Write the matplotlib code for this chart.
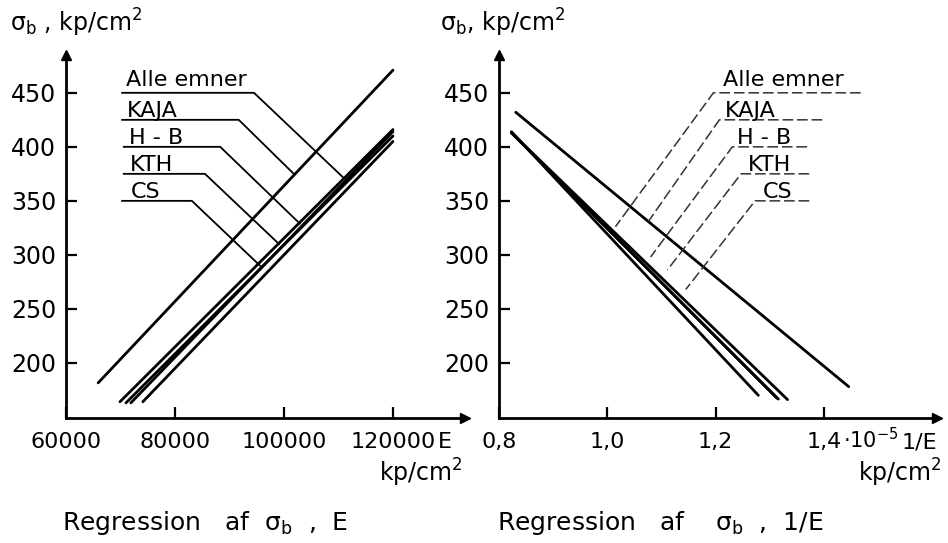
import numpy as np
import matplotlib
matplotlib.use("Agg")
import matplotlib.pyplot as plt

plt.rcParams["font.family"] = ["DejaVu Sans"]

# ── data: regression lines ───────────────────────────────────────────────────
LABELS = ["Alle emner", "KAJA", "H - B", "KTH", "CS"]

# sigma_b against E (kp/cm2)
E_START = [69900, 65900, 71900, 71000, 74100]
E_END = [120000, 120000, 120000, 120000, 120000]
SB_E_START = [164, 181.5, 163, 163, 164]
SB_E_END = [416, 471, 414, 410, 405]

# sigma_b against 1/E (1e-5 cm2/kp)
INV_START = [0.823, 0.831, 0.823, 0.823, 0.823]
INV_END = [1.314, 1.446, 1.316, 1.333, 1.279]
SB_INV_START = [413, 432, 413, 413, 414]
SB_INV_END = [167, 178, 166.5, 166, 170]

Y_TICKS = [200, 250, 300, 350, 400, 450]
E_TICKS = [60000, 80000, 100000, 120000]
E_TICKLABELS = ["60000", "80000", "100000", "120000"]
INV_TICKS = [0.8, 1.0, 1.2, 1.4]
INV_TICKLABELS = ["0,8", "1,0", "1,2", "1,4"]

# ── leader layout (label line level, underline start, knee, tip) ─────────────
LEAD_Y = [450, 425, 400, 375, 350]
L_START = [70300, 70300, 70600, 70600, 70300]
L_KNEE = [94500, 91700, 88300, 85500, 83100]
L_TIP = [(111000, 371), (101800, 375), (102900, 329), (99100, 310), (95600, 290)]
L_TEXT_X = [71000, 71200, 71600, 71800, 71800]

R_START = [1.468, 1.397, 1.369, 1.373, 1.373]
R_KNEE = [1.196, 1.207, 1.231, 1.247, 1.273]
R_TIP = [(1.015, 326), (1.076, 331), (1.080, 298), (1.111, 286), (1.145, 268)]
R_TEXT_X = [1.213, 1.218, 1.240, 1.259, 1.287]

FS = 17
XFS = 16
YLIM = (149, 485)

fig = plt.figure(figsize=(9.48, 5.43), dpi=100)
ax1 = fig.add_axes([66 / 948, 1 - 418 / 543, 399 / 948, 363 / 543])
ax2 = fig.add_axes([499 / 948, 1 - 418 / 543, 438 / 948, 363 / 543])


def style_axes(ax, xticks, xlabels):
    for s in ["top", "right"]:
        ax.spines[s].set_visible(False)
    for s in ["left", "bottom"]:
        ax.spines[s].set_linewidth(2)
    ax.set_ylim(*YLIM)
    ax.set_yticks(Y_TICKS)
    ax.set_xticks(xticks)
    ax.tick_params(direction="in", length=8, width=1.6, labelsize=FS, pad=7,
                   labelbottom=False)
    tr = ax.get_xaxis_transform()
    for x, lab in zip(xticks, xlabels):
        ax.text(x, -0.083, lab, transform=tr, ha="center", va="baseline",
                fontsize=XFS, clip_on=False)
    # arrow heads
    ax.plot(0, 1, marker="^", ms=7, color="k", transform=ax.transAxes, clip_on=False)
    ax.plot(1, 0, marker=">", ms=7, color="k", transform=ax.transAxes, clip_on=False)


# ── left panel ───────────────────────────────────────────────────────────────
ax1.set_xlim(60000, 133220)
for i in range(len(LABELS)):
    ax1.plot([E_START[i], E_END[i]], [SB_E_START[i], SB_E_END[i]],
             color="k", lw=2.0, solid_capstyle="round")
for i, lab in enumerate(LABELS):
    tx, ty = L_TIP[i]
    ax1.plot([L_START[i], L_KNEE[i], tx], [LEAD_Y[i], LEAD_Y[i], ty], color="k", lw=1.3)
    ax1.text(L_TEXT_X[i], LEAD_Y[i] + 3 if i else LEAD_Y[i] + 6, lab,
             fontsize=16, ha="left", va="baseline")
style_axes(ax1, E_TICKS, E_TICKLABELS)
tr = ax1.get_xaxis_transform()
ax1.text(128300, -0.083, "E", transform=tr, ha="left", va="baseline", fontsize=XFS)
ax1.text(0.995, -0.175, "kp/cm$^2$", transform=ax1.transAxes, ha="right",
         va="baseline", fontsize=FS)

# ── right panel ──────────────────────────────────────────────────────────────
ax2.set_xlim(0.8, 1.609)
for i in range(len(LABELS)):
    ax2.plot([INV_START[i], INV_END[i]], [SB_INV_START[i], SB_INV_END[i]],
             color="k", lw=2.0, solid_capstyle="round")
for i, lab in enumerate(LABELS):
    tx, ty = R_TIP[i]
    ax2.plot([R_START[i], R_KNEE[i], tx], [LEAD_Y[i], LEAD_Y[i], ty],
             color="#333333", lw=1.1, ls=(0, (7, 2.5)))
    ax2.text(R_TEXT_X[i], LEAD_Y[i] + 3 if i else LEAD_Y[i] + 6, lab,
             fontsize=16, ha="left", va="baseline")
style_axes(ax2, INV_TICKS, INV_TICKLABELS)
tr = ax2.get_xaxis_transform()
ax2.text(1.436, -0.083, "·10$^{-5}$", transform=tr, ha="left",
         va="baseline", fontsize=15)
ax2.text(1.0, -0.083, "1/E", transform=ax2.transAxes, ha="right",
         va="baseline", fontsize=XFS)
ax2.text(1.011, -0.175, "kp/cm$^2$", transform=ax2.transAxes, ha="right",
         va="baseline", fontsize=FS)

# ── axis titles and captions ─────────────────────────────────────────────────
fig.text(10 / 948, 1 - 32 / 543, r"σ$_\mathrm{b}$ , kp/cm$^2$", fontsize=FS,
         ha="left", va="baseline")
fig.text(440 / 948, 1 - 32 / 543, r"σ$_\mathrm{b}$, kp/cm$^2$", fontsize=FS,
         ha="left", va="baseline")
fig.text(62 / 948, 1 - 530 / 543, r"Regression   af  σ$_\mathrm{b}$  ,  E",
         fontsize=18, ha="left", va="baseline")
fig.text(497 / 948, 1 - 530 / 543, r"Regression   af    σ$_\mathrm{b}$  ,  1/E",
         fontsize=18, ha="left", va="baseline")

fig.savefig("out.png", dpi=100)
